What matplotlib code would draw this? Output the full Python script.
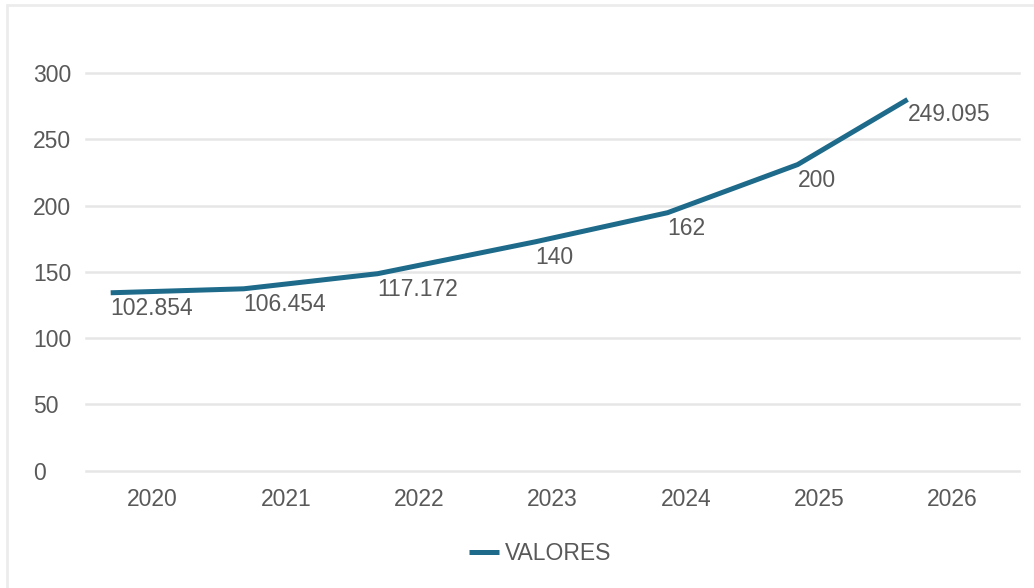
import matplotlib
matplotlib.use("Agg")
import matplotlib.pyplot as plt
from matplotlib.patches import Rectangle

# data
years = ["2020", "2021", "2022", "2023", "2024", "2025", "2026"]
# where the line vertices sit (in category units, the line is shifted left of the ticks)
line_x = [-0.315, 0.683, 1.688, 2.873, 3.863, 4.839, 5.664]
line_y = [134.2, 137.2, 148.6, 172.7, 194.6, 230.9, 280.0]
point_labels = ["102.854", "106.454", "117.172", "140", "162", "200", "249.095"]
y_ticks = [0, 50, 100, 150, 200, 250, 300]

line_color = "#1d6a8a"
text_color = "#595959"
grid_color = "#e6e6e6"

plt.rcParams['font.family'] = ['Liberation Sans', 'DejaVu Sans']

fig = plt.figure(figsize=(10.34, 5.88), dpi=100)
fig.patch.set_facecolor("white")

# light frame round the chart
fig.patches.append(Rectangle((7 / 1034, -0.1), 1.2, (588 - 5) / 588 + 0.1,
                             transform=fig.transFigure, fill=False,
                             edgecolor="#ececec", linewidth=2))

ax = fig.add_axes([0.0832, 0.1995, 0.9023, 0.6764])
ax.set_xlim(-0.5, 6.5)
ax.set_ylim(0, 300)

ax.plot(line_x, line_y, color=line_color, linewidth=3.6, label="VALORES",
        solid_capstyle="butt", clip_on=False, zorder=3)

for x, y, lab in zip(line_x, line_y, point_labels):
    ax.annotate(lab, (x, y), xytext=(0, -4), textcoords="offset pixels",
                ha="left", va="top", fontsize=16.5, color=text_color)

ax.set_xticks(range(len(years)))
ax.set_xticklabels(years)
ax.set_yticks(y_ticks)
ax.grid(axis="y", color=grid_color, linewidth=1.8)
for gl in ax.get_ygridlines():
    gl.set_clip_on(False)
ax.set_axisbelow(True)

for s in ax.spines.values():
    s.set_visible(False)

ax.tick_params(axis="x", length=0, pad=12.5, labelsize=16.5, labelcolor=text_color)
ax.tick_params(axis="y", length=0, pad=38, labelsize=16.5, labelcolor=text_color)
for lbl in ax.get_yticklabels():
    lbl.set_horizontalalignment("left")

ax.legend(loc="center", bbox_to_anchor=(0.487, -0.207), frameon=False,
          fontsize=16.5, labelcolor=text_color, handlelength=1.3,
          handletextpad=0.25)

fig.savefig("out.png", dpi=100, facecolor="white")
